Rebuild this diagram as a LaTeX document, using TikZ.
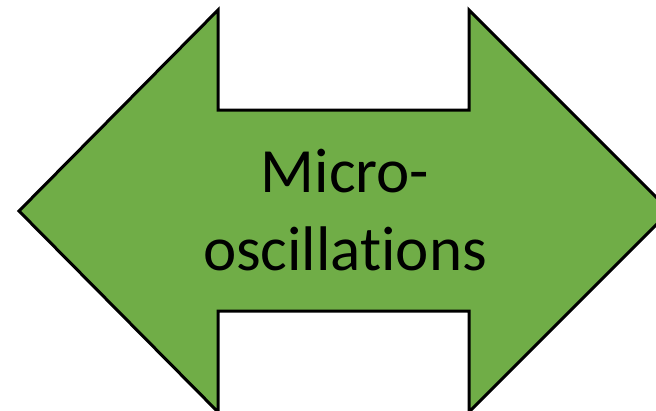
\documentclass[tikz,border=0pt]{standalone}
\usepackage{fontspec}
\setmainfont[Ligatures=NoCommon]{Carlito}
\definecolor{arrowgreen}{HTML}{70AD47}
\begin{document}
\begin{tikzpicture}[x=1pt,y=-1pt,
  dblarrow/.style={fill=arrowgreen,draw=black,line width=3pt,line join=miter},
  label/.style={font=\fontsize{63}{78}\selectfont,align=center,text=black,inner sep=0pt}]
\useasboundingbox (0,0) rectangle (656,410);
\begin{scope}
\clip (0,0) rectangle (656,410);
\draw[dblarrow] (19,211) -- (218,10) -- (218,110) -- (469,110) -- (469,10)
  -- (670,211) -- (469,412) -- (469,311) -- (218,311) -- (218,412) -- cycle;
\end{scope}
\node[label,anchor=base] (txt) at (345,270) {Micro-\\oscillations};
\end{tikzpicture}
\end{document}
